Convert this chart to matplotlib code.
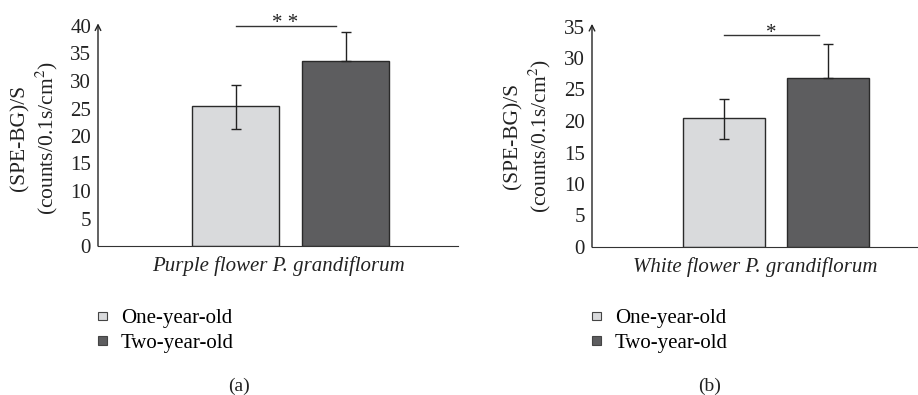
import numpy as np
import matplotlib
matplotlib.use('Agg')
from matplotlib import pyplot as plt
from matplotlib.patches import Patch

plt.rcParams['font.family'] = ['Liberation Serif', 'DejaVu Serif']
plt.rcParams['mathtext.fontset'] = 'stix'

# data
groups = ['One-year-old', 'Two-year-old']
purple_means = [25.4, 33.7]
purple_err_lo = [4.1, 0.0]
purple_err_hi = [3.8, 5.2]
white_means = [20.5, 26.9]
white_err_lo = [3.3, 0.0]
white_err_hi = [3.0, 5.4]
titles = ['Purple flower P. grandiflorum', 'White flower P. grandiflorum']
stars = ['* *', '*']
panel_tags = ['(a)', '(b)']
ymax = [40, 35]
sig_y = [40.0, 33.6]

colors = ['#d9dadc', '#5d5d5f']
edge = '#2a2a2a'
fs = 15

fig = plt.figure(figsize=(9.18, 3.95), dpi=100)
axes_rects = [[98/918, 149/395, 360/918, 220/395],
              [592/918, 148/395, 326/918, 220.5/395]]
xlims = [(-1.25, 2.02), (-1.27, 1.865)]
widths = [0.79, 0.794]
ylab_x = [35/918, 528/918]
ylab_y = [1 - 138/395, 1 - 136/395]
leg_x = [98/918, 592/918]
tag_x = [239/918, 710/918]
star_off = [-0.3, -0.5]

means = [purple_means, white_means]
errs = [[purple_err_lo, purple_err_hi], [white_err_lo, white_err_hi]]

for i in range(2):
    ax = fig.add_axes(axes_rects[i])
    x = np.arange(len(groups))
    ax.bar(x, means[i], width=widths[i], color=colors, edgecolor=edge,
           linewidth=1.0, yerr=errs[i],
           error_kw=dict(ecolor='#222222', elinewidth=1.0, capsize=3.3, capthick=1.0))
    ax.set_xlim(*xlims[i])
    ax.set_ylim(0, ymax[i])
    ax.set_yticks(np.arange(0, ymax[i] + 1, 5))
    ax.set_xticks([])
    for s in ['top', 'right', 'left']:
        ax.spines[s].set_visible(False)
    ax.spines['bottom'].set_color('#333333')
    ax.tick_params(axis='y', length=0, pad=5, labelsize=fs, colors='#222222')
    ax.annotate('', xy=(0, 1.012), xytext=(0, 0), xycoords='axes fraction',
                arrowprops=dict(arrowstyle='->', lw=1.0, color='#222222', shrinkA=0, shrinkB=0))
    ax.set_xlabel(titles[i], style='italic', fontsize=fs, labelpad=7, color='#222222')

    # significance bar
    ax.plot([0.0, 0.91], [sig_y[i], sig_y[i]], color='#333333', lw=1.0, clip_on=False)
    ax.text(0.45, sig_y[i] + star_off[i], stars[i], ha='center', va='baseline',
            fontsize=fs, color='#222222')

    fig.text(ylab_x[i], ylab_y[i], '(SPE-BG)/S\n(counts/0.1s/cm$^2$)', rotation=90,
             ha='center', va='center', fontsize=fs + 0.5, color='#222222', linespacing=1.25)

    handles = [Patch(facecolor=colors[k], edgecolor='#444444', lw=0.8) for k in range(2)]
    fig.legend(handles, groups, loc='upper left', bbox_to_anchor=(leg_x[i], 1 - 309.5/395),
               frameon=False, fontsize=fs, handlelength=0.42, handleheight=0.24,
               handletextpad=0.67, labelspacing=0.27, borderaxespad=0, borderpad=0)
    fig.text(tag_x[i], 1 - 386/395, panel_tags[i], ha='center', va='center',
             fontsize=fs - 1, color='#222222')

plt.savefig('out.png', dpi=100)
